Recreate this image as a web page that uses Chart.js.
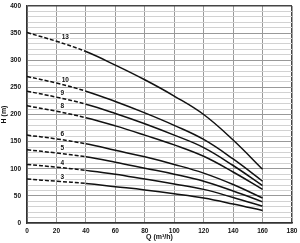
<!DOCTYPE html>
<html><head><meta charset="utf-8">
<script src="https://cdn.jsdelivr.net/npm/chart.js@4/dist/chart.umd.min.js"></script>
<style>html,body{margin:0;padding:0;background:#fff}</style>
</head><body>
<canvas id="c" width="300" height="243"></canvas>
<script>
// Flow rate Q (m³/h)
const flow = [0, 20, 40, 60, 80, 100, 120, 140, 160];
// Head H (m) per number of stages
const stages = ['13', '10', '9', '8', '6', '5', '4', '3'];
const h13 = [351, 335, 316, 291, 264, 234, 200, 153, 99];
const h10 = [270, 258, 243, 224, 203, 180, 154, 118, 77];
const h9  = [243, 232, 219, 202, 183, 162, 139, 106, 69];
const h8  = [216, 206, 194, 179, 162, 144, 123, 94, 62];
const h6  = [162, 155, 146, 134, 122, 108, 92, 71, 46];
const h5  = [135, 129, 122, 112, 101, 90, 77, 59, 39];
const h4  = [108, 103, 97, 90, 81, 72, 62, 47, 31];
const h3  = [81, 77, 73, 67, 61, 54, 46, 35, 23];
// Curve label positions (Q, H)
const labelQ = [26, 26, 24, 24, 24, 24, 24, 24];
const labelH = [343, 264, 240, 216, 164, 138, 111, 85];
// Axis ticks
const xTicks = [0, 20, 40, 60, 80, 100, 120, 140, 160, 180];
const yTicks = [0, 50, 100, 150, 200, 250, 300, 350, 400];
const dashEnd = 40;

const series = [h13, h10, h9, h8, h6, h5, h4, h3];
const FONT = "'Liberation Sans', Arial, sans-serif";

const datasets = series.map((s, i) => ({
  label: stages[i],
  data: flow.map((q, j) => ({x: q, y: s[j]})),
  borderColor: '#111',
  borderWidth: 1.5,
  pointRadius: 0,
  fill: false,
  tension: 0.4,
  segment: {
    borderDash: ctx => ctx.p1.parsed.x <= dashEnd ? [4, 2] : undefined
  }
}));

const labelPlugin = {
  id: 'curveLabels',
  afterDatasetsDraw(chart) {
    const c = chart.ctx, xs = chart.scales.x, ys = chart.scales.y;
    c.save();
    c.font = "bold 6.5px " + FONT;
    c.textAlign = 'center';
    c.textBaseline = 'middle';
    stages.forEach((s, i) => {
      const px = xs.getPixelForValue(labelQ[i]);
      const py = ys.getPixelForValue(labelH[i]);
      const w = c.measureText(s).width;
      c.fillStyle = '#fff';
      c.fillRect(px - w / 2 - 1, py - 3.5, w + 2, 7);
      c.fillStyle = '#111';
      c.fillText(s, px, py);
    });
    c.restore();
  }
};

new Chart(document.getElementById('c'), {
  type: 'line',
  data: {datasets},
  plugins: [labelPlugin],
  options: {
    responsive: false,
    animation: false,
    layout: {padding: {left: 0, right: 8, top: 6, bottom: 2}},
    plugins: {legend: {display: false}, tooltip: {enabled: false}},
    scales: {
      x: {
        type: 'linear',
        min: xTicks[0], max: xTicks[xTicks.length - 1],
        afterFit: s => { s.height = 18; s.paddingLeft = 0; s.paddingRight = 0; },
        afterBuildTicks: s => { s.ticks = xTicks.map(v => ({value: v})); },
        border: {display: true, color: '#333', width: 1.5},
        grid: {
          drawTicks: false,
          color: ctx => ctx.tick && ctx.tick.value === 180 ? '#444' : '#999',
          lineWidth: ctx => ctx.tick && ctx.tick.value === 180 ? 1.5 : 1
        },
        ticks: {padding: 4, color: '#111', font: {family: FONT, size: 6.5, weight: 'bold'}, maxRotation: 0, autoSkip: false},
        title: {display: true, text: 'Q (m³/h)', color: '#111', padding: 0, font: {family: FONT, size: 7, weight: 'bold'}}
      },
      y: {
        type: 'linear',
        min: 0, max: 400,
        afterFit: s => { s.width = 27; s.paddingTop = 0; s.paddingBottom = 0; },
        afterBuildTicks: s => {
          const t = [];
          for (let v = 0; v <= 400; v += 10) t.push({value: v});
          s.ticks = t;
        },
        border: {display: true, color: '#333', width: 1.5},
        grid: {
          drawTicks: false,
          color: ctx => {
            const v = ctx.tick ? ctx.tick.value : 0;
            if (v === 400) return '#444';
            return v % 50 === 0 ? '#999' : '#d2d2d2';
          },
          lineWidth: ctx => ctx.tick && ctx.tick.value === 400 ? 1.5 : 1
        },
        ticks: {
          padding: 6, color: '#111', autoSkip: false,
          font: {family: FONT, size: 6.5, weight: 'bold'},
          callback: v => yTicks.includes(v) ? String(v) : ''
        },
        title: {display: true, text: 'H (m)', color: '#111', padding: 0, font: {family: FONT, size: 7, weight: 'bold'}}
      }
    }
  }
});
</script>
</body></html>
